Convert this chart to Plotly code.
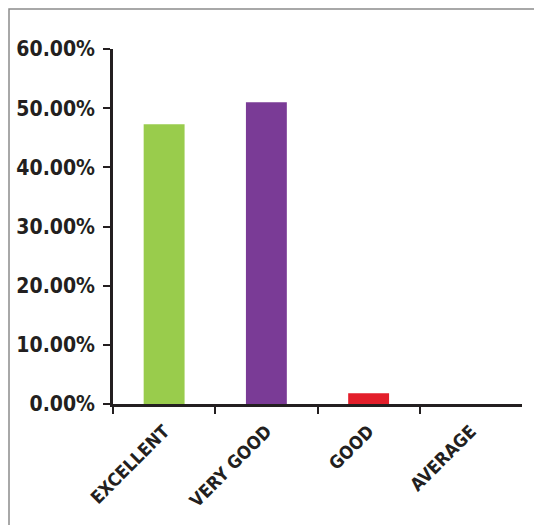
import plotly.graph_objects as go

categories = ["EXCELLENT", "VERY GOOD", "GOOD", "AVERAGE"]
values = [0.473, 0.510, 0.018, 0.0]
colors = ["#99CC4C", "#7A3B96", "#E31E2A", "#4F81BD"]

FONT = "DejaVu Sans Condensed, Liberation Sans Narrow, Arial Narrow, sans-serif"

xpos = list(range(len(categories)))

fig = go.Figure(go.Bar(
    x=xpos, y=values, marker_color=colors, marker_line_width=0,
    width=0.4,
))

# page body has an 8px margin; figure is offset by it
W, H = 534, 517
L, T = 105, 41
R = W - (522 - 8)
B = H - (404 - 8)
pw = W - L - R
ph = H - T - B

fig.update_layout(
    width=W, height=H,
    margin=dict(l=L, r=R, t=T, b=B, autoexpand=False),
    paper_bgcolor="white", plot_bgcolor="white",
    showlegend=False,
    font=dict(family=FONT, color="#231F20"),
)
fig.update_yaxes(
    range=[0, 0.6], dtick=0.1, tickformat=".2%",
    showgrid=False, zeroline=False, automargin=False,
    showline=True, linecolor="#231F20", linewidth=2.5,
    ticks="outside", ticklen=7, tickwidth=1.5, tickcolor="#231F20",
    tickfont=dict(family=FONT, size=21, color="#231F20", weight="bold"),
    ticklabelstandoff=4,
)
fig.update_xaxes(
    range=[-0.5, len(categories) - 0.5],
    tickmode="array", tickvals=xpos, ticktext=categories,
    showgrid=False, zeroline=False, automargin=False,
    showline=True, linecolor="#231F20", linewidth=2.5,
    ticks="", ticklen=7,
    tickangle=-45,
    ticklabelstandoff=7,
    tickfont=dict(family=FONT, size=18, color="#231F20", weight="bold"),
    minor=dict(tickmode="array", tickvals=[i - 0.5 for i in xpos],
               ticks="outside", ticklen=7, tickwidth=1.5, tickcolor="#231F20",
               showgrid=False),
)

# outer frame
x0 = (1 - L) / pw
y1 = (H - B - 1) / ph
fig.add_shape(type="rect", xref="paper", yref="paper",
              x0=x0, x1=1.2, y0=-0.5, y1=y1,
              line=dict(color="#8C8C8C", width=1.5), layer="below")

fig.write_html("out.html")
